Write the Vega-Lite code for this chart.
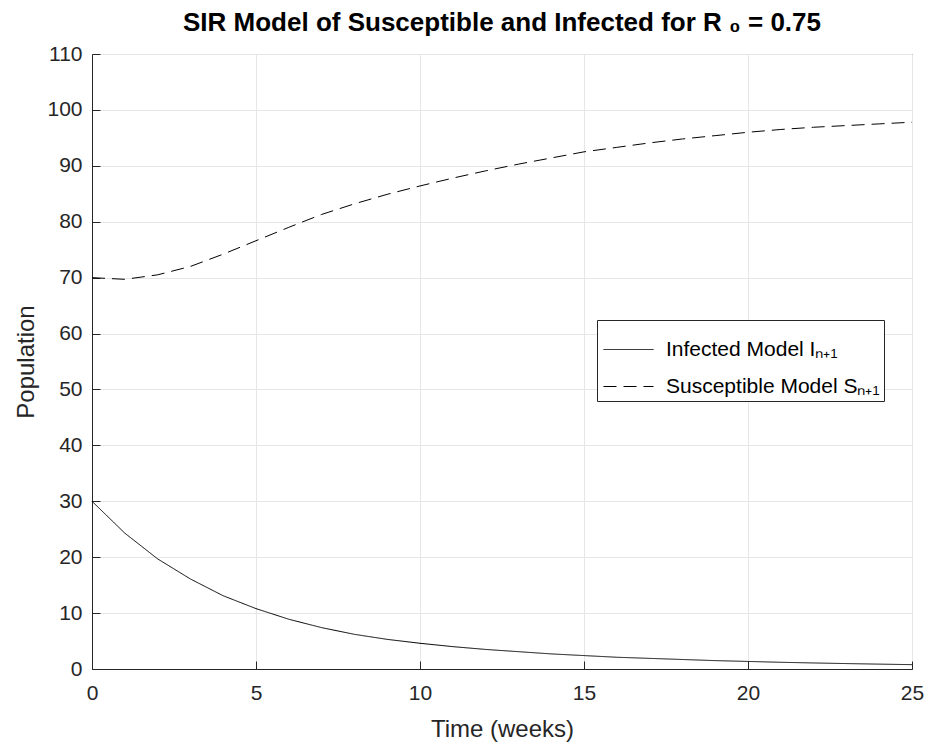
{
  "$schema": "https://vega.github.io/schema/vega-lite/v6.json",
  "autosize": {"type": "none"},
  "width": 820,
  "height": 615,
  "padding": {"left": 92, "top": 54, "right": 17, "bottom": 75},
  "background": "white",
  "config": {
    "font": "Liberation Sans",
    "view": {"stroke": "#262626", "strokeWidth": 1}
  },
  "title": {
    "text": "SIR Model of Susceptible and Infected for R ₀ = 0.75",
    "fontSize": 26,
    "fontWeight": "bold",
    "color": "#000000",
    "anchor": "middle",
    "offset": 7
  },
  "data": {
    "values": [
      {"t": 0, "pop": 30, "series": "Infected Model Iₙ₊₁"},
      {"t": 1, "pop": 24.3, "series": "Infected Model Iₙ₊₁"},
      {"t": 2, "pop": 19.7, "series": "Infected Model Iₙ₊₁"},
      {"t": 3, "pop": 16.1, "series": "Infected Model Iₙ₊₁"},
      {"t": 4, "pop": 13.1, "series": "Infected Model Iₙ₊₁"},
      {"t": 5, "pop": 10.8, "series": "Infected Model Iₙ₊₁"},
      {"t": 6, "pop": 8.9, "series": "Infected Model Iₙ₊₁"},
      {"t": 7, "pop": 7.4, "series": "Infected Model Iₙ₊₁"},
      {"t": 8, "pop": 6.2, "series": "Infected Model Iₙ₊₁"},
      {"t": 9, "pop": 5.3, "series": "Infected Model Iₙ₊₁"},
      {"t": 10, "pop": 4.6, "series": "Infected Model Iₙ₊₁"},
      {"t": 11, "pop": 4.0, "series": "Infected Model Iₙ₊₁"},
      {"t": 12, "pop": 3.5, "series": "Infected Model Iₙ₊₁"},
      {"t": 13, "pop": 3.1, "series": "Infected Model Iₙ₊₁"},
      {"t": 14, "pop": 2.7, "series": "Infected Model Iₙ₊₁"},
      {"t": 15, "pop": 2.4, "series": "Infected Model Iₙ₊₁"},
      {"t": 16, "pop": 2.1, "series": "Infected Model Iₙ₊₁"},
      {"t": 17, "pop": 1.9, "series": "Infected Model Iₙ₊₁"},
      {"t": 18, "pop": 1.7, "series": "Infected Model Iₙ₊₁"},
      {"t": 19, "pop": 1.5, "series": "Infected Model Iₙ₊₁"},
      {"t": 20, "pop": 1.35, "series": "Infected Model Iₙ₊₁"},
      {"t": 21, "pop": 1.2, "series": "Infected Model Iₙ₊₁"},
      {"t": 22, "pop": 1.08, "series": "Infected Model Iₙ₊₁"},
      {"t": 23, "pop": 0.97, "series": "Infected Model Iₙ₊₁"},
      {"t": 24, "pop": 0.87, "series": "Infected Model Iₙ₊₁"},
      {"t": 25, "pop": 0.78, "series": "Infected Model Iₙ₊₁"},
      {"t": 0, "pop": 70, "series": "Susceptible Model Sₙ₊₁"},
      {"t": 1, "pop": 69.7, "series": "Susceptible Model Sₙ₊₁"},
      {"t": 2, "pop": 70.5, "series": "Susceptible Model Sₙ₊₁"},
      {"t": 3, "pop": 72.0, "series": "Susceptible Model Sₙ₊₁"},
      {"t": 4, "pop": 74.2, "series": "Susceptible Model Sₙ₊₁"},
      {"t": 5, "pop": 76.6, "series": "Susceptible Model Sₙ₊₁"},
      {"t": 6, "pop": 79.0, "series": "Susceptible Model Sₙ₊₁"},
      {"t": 7, "pop": 81.3, "series": "Susceptible Model Sₙ₊₁"},
      {"t": 8, "pop": 83.2, "series": "Susceptible Model Sₙ₊₁"},
      {"t": 9, "pop": 84.9, "series": "Susceptible Model Sₙ₊₁"},
      {"t": 10, "pop": 86.4, "series": "Susceptible Model Sₙ₊₁"},
      {"t": 11, "pop": 87.8, "series": "Susceptible Model Sₙ₊₁"},
      {"t": 12, "pop": 89.1, "series": "Susceptible Model Sₙ₊₁"},
      {"t": 13, "pop": 90.3, "series": "Susceptible Model Sₙ₊₁"},
      {"t": 14, "pop": 91.4, "series": "Susceptible Model Sₙ₊₁"},
      {"t": 15, "pop": 92.5, "series": "Susceptible Model Sₙ₊₁"},
      {"t": 16, "pop": 93.3, "series": "Susceptible Model Sₙ₊₁"},
      {"t": 17, "pop": 94.1, "series": "Susceptible Model Sₙ₊₁"},
      {"t": 18, "pop": 94.8, "series": "Susceptible Model Sₙ₊₁"},
      {"t": 19, "pop": 95.4, "series": "Susceptible Model Sₙ₊₁"},
      {"t": 20, "pop": 96.0, "series": "Susceptible Model Sₙ₊₁"},
      {"t": 21, "pop": 96.5, "series": "Susceptible Model Sₙ₊₁"},
      {"t": 22, "pop": 96.9, "series": "Susceptible Model Sₙ₊₁"},
      {"t": 23, "pop": 97.2, "series": "Susceptible Model Sₙ₊₁"},
      {"t": 24, "pop": 97.5, "series": "Susceptible Model Sₙ₊₁"},
      {"t": 25, "pop": 97.8, "series": "Susceptible Model Sₙ₊₁"}
    ]
  },
  "layer": [
    {
      "mark": {"type": "line", "color": "black", "strokeWidth": 1},
      "encoding": {
        "x": {
          "field": "t", "type": "quantitative",
          "scale": {"domain": [0, 25], "nice": false, "zero": false},
          "axis": {
            "title": "Time   (weeks)", "titleFontSize": 24, "titleFontWeight": "normal", "titleColor": "#262626", "titlePadding": 14,
            "values": [0, 5, 10, 15, 20, 25], "labelFontSize": 21, "labelColor": "#262626", "labelPadding": 21,
            "domainColor": "#262626", "tickColor": "#262626", "tickSize": -8,
            "grid": true, "gridColor": "#e6e6e6", "labelFlush": false
          }
        },
        "y": {
          "field": "pop", "type": "quantitative",
          "scale": {"domain": [0, 110], "nice": false},
          "axis": {
            "title": "Population", "titleFontSize": 24, "titleFontWeight": "normal", "titleColor": "#262626", "titlePadding": 8,
            "values": [0, 10, 20, 30, 40, 50, 60, 70, 80, 90, 100, 110], "labelFontSize": 21, "labelColor": "#262626", "labelPadding": 18,
            "domainColor": "#262626", "tickColor": "#262626", "tickSize": -8,
            "grid": true, "gridColor": "#e6e6e6", "labelFlush": false
          }
        },
        "strokeDash": {
          "field": "series", "type": "nominal",
          "scale": {"domain": ["Infected Model Iₙ₊₁", "Susceptible Model Sₙ₊₁"], "range": [[1, 0], [13, 7]]},
          "legend": {
            "title": null, "orient": "none", "legendX": 505, "legendY": 266,
            "symbolType": "stroke", "symbolSize": 2500, "symbolStrokeColor": "black", "symbolStrokeWidth": 1,
            "symbolOffset": 2,
            "labelFontSize": 21, "labelColor": "#000000", "labelLimit": 400, "labelOffset": 12,
            "strokeColor": "#262626", "fillColor": "white", "padding": 4, "rowPadding": 1
          }
        }
      }
    }
  ]
}
